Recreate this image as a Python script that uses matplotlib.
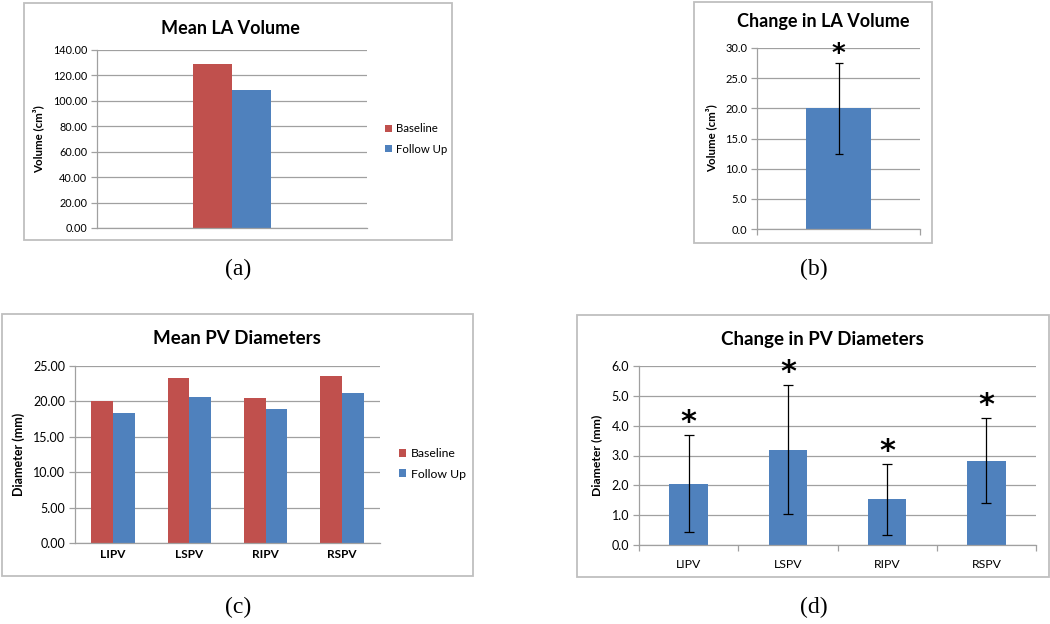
import matplotlib
matplotlib.use('Agg')
import matplotlib.pyplot as plt
from matplotlib.patches import Rectangle
import numpy as np

plt.rcParams['font.family'] = ['Lato', 'DejaVu Sans']

W, H = 1050, 624

# ---------------- data ----------------
la_groups = ['Baseline', 'Follow Up']
la_volume = [129.0, 108.8]
la_ticks = [0, 20, 40, 60, 80, 100, 120, 140]

la_change = [20.0]
la_change_err = [7.5]
la_change_ticks = [0, 5, 10, 15, 20, 25, 30]

pv_veins = ['LIPV', 'LSPV', 'RIPV', 'RSPV']
pv_baseline = [20.1, 23.35, 20.5, 23.55]
pv_followup = [18.3, 20.6, 18.95, 21.2]
pv_ticks = [0, 5, 10, 15, 20, 25]

pv_change = [2.06, 3.20, 1.53, 2.83]
pv_change_err = [1.63, 2.16, 1.20, 1.43]
pv_change_ticks = [0, 1, 2, 3, 4, 5, 6]

titles = ['Mean LA Volume', 'Change in LA Volume', 'Mean PV Diameters', 'Change in PV Diameters']
ylabels = ['Volume (cm³)', 'Volume (cm³)', 'Diameter (mm)', 'Diameter (mm)']
panel_labels = ['(a)', '(b)', '(c)', '(d)']

RED = '#C0504D'
BLUE = '#4F81BD'
GRID = '#A0A0A0'
FRAME = '#BFBFBF'

fig = plt.figure(figsize=(W / 100, H / 100), dpi=100)


def frame(l, t, r, b):
    fig.add_artist(Rectangle((l / W, 1 - b / H), (r - l) / W, (b - t) / H,
                             transform=fig.transFigure, fill=False, ec=FRAME, lw=1.3))


def make_axes(l, t, r, b):
    return fig.add_axes([l / W, 1 - b / H, (r - l) / W, (b - t) / H])


def style(ax, ticks, fmt, fs):
    ax.set_ylim(ticks[0], ticks[-1])
    ax.set_yticks(ticks)
    ax.set_yticklabels([fmt.format(t) for t in ticks], fontsize=fs)
    ax.yaxis.grid(True, color=GRID, lw=0.9)
    ax.set_axisbelow(True)
    for s in ['top', 'right']:
        ax.spines[s].set_visible(False)
    for s in ['left', 'bottom']:
        ax.spines[s].set_color(GRID)
        ax.spines[s].set_linewidth(0.9)
    ax.tick_params(axis='y', length=4, color=GRID, pad=3, width=0.9)
    ax.set_facecolor('none')


def ftext(x, y, s, **kw):
    fig.text(x / W, 1 - y / H, s, ha='center', va='center', **kw)


def ylabel_at(ax, s, x_px, l_px, r_px, fs):
    ax.set_ylabel(s, fontsize=fs, fontweight='bold')
    ax.yaxis.set_label_coords((x_px - l_px) / (r_px - l_px), 0.5)


def stars(ax, xs, vals, errs, off, fs):
    for xi, v, e in zip(xs, vals, errs):
        ax.annotate('*', (xi, v + e), xytext=(0, off), textcoords='offset points', ha='center',
                    va='center', fontsize=fs, fontweight='bold', family=['DejaVu Sans'])


# ---------------- panel (a) ----------------
frame(24, 3, 452, 240)
ax = make_axes(97, 50, 367, 228)
style(ax, la_ticks, '{:.2f}', 7.8)
wa = 0.144
x0 = np.arange(1)
ax.bar(x0 - wa / 2, [la_volume[0]], wa, color=RED, label=la_groups[0])
ax.bar(x0 + wa / 2, [la_volume[1]], wa, color=BLUE, label=la_groups[1])
ax.set_xlim(-0.5, 0.5)
ax.set_xticks([])
ylabel_at(ax, ylabels[0], 44, 97, 367, 8.3)
ax.legend(loc='center left', bbox_to_anchor=(385 / W, 1 - 139 / H), bbox_transform=fig.transFigure,
          frameon=False, fontsize=8.2, handlelength=0.6, handleheight=0.6, handletextpad=0.4,
          borderpad=0, borderaxespad=0, labelspacing=0.85)
ftext(230, 28, titles[0], fontsize=13, fontweight='bold')

# ---------------- panel (b) ----------------
frame(694, 2, 932, 243)
ax = make_axes(757, 48, 920, 229)
style(ax, la_change_ticks, '{:.1f}', 8)
ax.bar(np.arange(1), la_change, 0.4, color=BLUE)
ax.errorbar(np.arange(1), la_change, yerr=la_change_err, fmt='none', ecolor='black', elinewidth=0.9,
            capsize=3, capthick=0.9)
ax.set_xlim(-0.5, 0.5)
ax.set_xticks([-0.5, 0.5])
ax.set_xticklabels(['', ''])
ax.tick_params(axis='x', length=4, color=GRID, width=0.9)
stars(ax, np.arange(1), la_change, la_change_err, 5.8, 19)
ylabel_at(ax, ylabels[1], 717, 757, 920, 8.3)
ftext(823, 22, titles[1], fontsize=13, fontweight='bold')

# ---------------- panel (c) ----------------
frame(2, 314, 473, 576)
ax = make_axes(75, 366, 380, 543)
style(ax, pv_ticks, '{:.2f}', 9)
w = 1 / 3.5
xc = np.arange(len(pv_veins))
ax.bar(xc - w / 2, pv_baseline, w, color=RED, label=la_groups[0])
ax.bar(xc + w / 2, pv_followup, w, color=BLUE, label=la_groups[1])
ax.set_xlim(-0.5, len(pv_veins) - 0.5)
ax.set_xticks(xc)
ax.set_xticklabels(pv_veins, fontsize=8.5, fontweight='bold')
ax.tick_params(axis='x', length=0, pad=4)
ylabel_at(ax, ylabels[2], 25, 75, 380, 9)
ax.legend(loc='center left', bbox_to_anchor=(399 / W, 1 - 464 / H), bbox_transform=fig.transFigure,
          frameon=False, fontsize=8.8, handlelength=0.6, handleheight=0.6, handletextpad=0.4,
          borderpad=0, borderaxespad=0, labelspacing=0.75)
ftext(237, 338, titles[2], fontsize=13.5, fontweight='bold')

# ---------------- panel (d) ----------------
frame(577, 315, 1049, 577)
ax = make_axes(639, 366, 1036, 545)
style(ax, pv_change_ticks, '{:.1f}', 9)
ax.bar(xc, pv_change, 0.386, color=BLUE)
ax.errorbar(xc, pv_change, yerr=pv_change_err, fmt='none', ecolor='black', elinewidth=0.9,
            capsize=3.5, capthick=0.9)
ax.set_xlim(-0.5, len(pv_veins) - 0.5)
ax.set_xticks(xc)
ax.set_xticklabels(pv_veins, fontsize=8.8)
ax.tick_params(axis='x', length=0, pad=10)
ax.set_xticks(np.arange(len(pv_veins) + 1) - 0.5, minor=True)
ax.tick_params(axis='x', which='minor', length=4, color=GRID, width=0.9)
stars(ax, xc, pv_change, pv_change_err, 9, 22)
ylabel_at(ax, ylabels[3], 602, 639, 1036, 8.8)
ftext(822, 339, titles[3], fontsize=13.5, fontweight='bold')

# ---------------- panel labels ----------------
for (px, py), s in zip([(238, 269), (814, 269), (238, 607), (814, 607)], panel_labels):
    ftext(px, py, s, fontsize=17, family=['Liberation Serif', 'DejaVu Serif'])

fig.savefig('out.png', dpi=100)
